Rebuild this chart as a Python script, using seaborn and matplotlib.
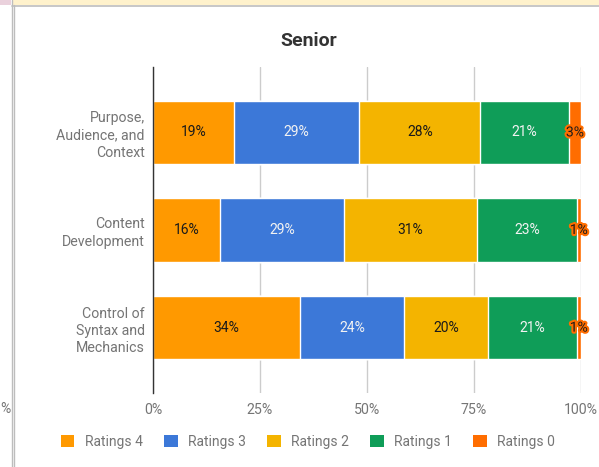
import matplotlib
matplotlib.use("Agg")
import matplotlib.pyplot as plt
import matplotlib.patheffects as pe
from matplotlib.patches import Patch, Rectangle
from matplotlib.lines import Line2D
import seaborn as sns
import pandas as pd

categories = ["Purpose,\nAudience, and\nContext", "Content\nDevelopment", "Control of\nSyntax and\nMechanics"]
series_names = ["Ratings 4", "Ratings 3", "Ratings 2", "Ratings 1", "Ratings 0"]
r4 = [18.9, 15.7, 34.4]
r3 = [29.4, 29.0, 24.3]
r2 = [28.2, 31.1, 19.7]
r1 = [20.9, 23.4, 20.8]
r0 = [2.6, 0.8, 0.8]
title = "Senior"
xticks = [0, 25, 50, 75, 100]
xtick_labels = ["0%", "25%", "50%", "75%", "100%"]

colors = ["#FF9900", "#3C78D8", "#F4B400", "#0F9D58", "#FF6D00"]
text_colors = ["#1a1a1a", "#f2f2f2", "#1a1a1a", "#f2f2f2", "#1a1a1a"]

sns.set_theme(style="white")
plt.rcParams["font.family"] = ["Roboto", "DejaVu Sans"]

W, H = 599, 467
fig = plt.figure(figsize=(W / 100, H / 100), dpi=100)
ax = fig.add_axes([153 / W, 1 - 393 / H, (580.5 - 153) / W, (393 - 67) / H])

series = [r4, r3, r2, r1, r0]
df = pd.DataFrame({"category": categories})
cum = [0, 0, 0]
starts = []
for name, vals in zip(series_names, series):
    starts.append(list(cum))
    cum = [c + v for c, v in zip(cum, vals)]
    df[name] = cum

# draw cumulative ends from last to first so earlier segments overlay
for i in range(len(series_names) - 1, -1, -1):
    sns.barplot(data=df, x=series_names[i], y="category", color=colors[i],
                orient="h", width=0.65, saturation=1, errorbar=None, ax=ax,
                zorder=2)

# labels
for i, vals in enumerate(series):
    for j, v in enumerate(vals):
        xc = starts[i][j] + v / 2
        lab = f"{round(v):d}%"
        if v < 5:
            ax.text(xc, j, lab, ha="center", va="center", fontsize=10,
                    color="#1a1a1a", zorder=5,
                    path_effects=[pe.withStroke(linewidth=3, foreground=colors[i])])
        else:
            ax.text(xc, j, lab, ha="center", va="center", fontsize=10,
                    color=text_colors[i], zorder=5)

ax.set_xlim(0, 100)
ax.set_ylim(2.67, -0.67)
ax.set_xticks(xticks)
ax.set_xticklabels(xtick_labels)
ax.set_xlabel("")
ax.set_ylabel("")
ax.xaxis.grid(True, color="#cccccc", linewidth=1)
ax.yaxis.grid(False)
ax.set_axisbelow(True)
for s in ["top", "right", "bottom"]:
    ax.spines[s].set_visible(False)
ax.spines["left"].set_color("#333333")
ax.spines["left"].set_linewidth(1)
ax.spines["left"].set_zorder(4)
ax.tick_params(axis="both", length=0, colors="#757575", labelsize=10.2)
ax.tick_params(axis="x", pad=7.5)
ax.tick_params(axis="y", pad=6, labelcolor="#757575")
for t in ax.get_yticklabels():
    t.set_linespacing(1.28)
    t.set_ha("right")

fig.text(309 / W, 1 - 40.5 / H, title, ha="center", va="center", fontsize=14,
         fontweight="bold", color="#333333")

handles = [Patch(facecolor=c, edgecolor="none") for c in colors]
fig.legend(handles, series_names, loc="center", bbox_to_anchor=(308 / W, 1 - 442 / H),
           ncol=5, frameon=False, fontsize=10, labelcolor="#757575",
           handlelength=0.95, handleheight=0.95, handletextpad=0.75,
           columnspacing=1.55, borderaxespad=0)

# surrounding screenshot frame
fig.patches.append(Rectangle((0, 1 - 5 / H), 11 / W, 5 / H, transform=fig.transFigure,
                             facecolor="#EAD1DC", edgecolor="none"))
fig.patches.append(Rectangle((12 / W, 1 - 5 / H), 1, 5 / H, transform=fig.transFigure,
                             facecolor="#FFF2CC", edgecolor="none"))
fig.lines.append(Line2D([12 / W, 1], [1 - 5.5 / H, 1 - 5.5 / H], transform=fig.transFigure,
                        color="#bdbdbd", linewidth=1.2))
fig.lines.append(Line2D([11.5 / W, 11.5 / W], [0, 1], transform=fig.transFigure,
                        color="#bdbdbd", linewidth=1))
fig.lines.append(Line2D([13.7 / W, 13.7 / W], [0, 1 - 5 / H], transform=fig.transFigure,
                        color="#bdbdbd", linewidth=1))
fig.text(0 / W, 1 - 409 / H, "%", ha="left", va="center", fontsize=10, color="#757575")

fig.savefig("out.png", dpi=100)
